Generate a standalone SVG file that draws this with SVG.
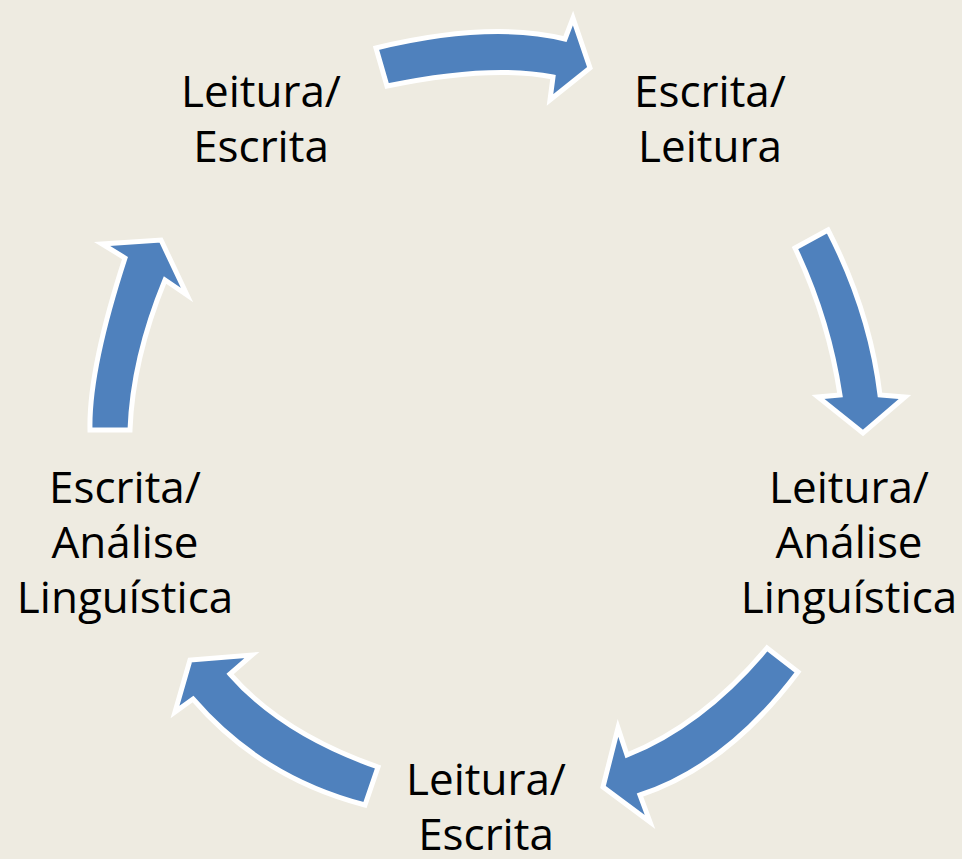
<svg xmlns="http://www.w3.org/2000/svg" width="962" height="859" viewBox="0 0 962 859">
<style>
.bg{fill:#EEEBE1}
.arr{fill:#4F81BD;stroke:#FFFFFF;stroke-width:5;stroke-linejoin:miter}
.lbl{font-family:"Open Sans","Liberation Sans",sans-serif;font-size:44px;fill:#000;text-anchor:middle}
</style>
<rect class="bg" x="0" y="0" width="962" height="859"/>
<g id="connectors">
<path id="arrow1" class="arr" d="M376,48 Q489.5,20.5 565,39 L573,18 L590,68 L550,100 L553,77 Q490,64.5 387,86 Z"/>
<path id="arrow2" class="arr" d="M795,248 L828,230 Q870,311.5 880,395 L905,397 L863,433 L818,397 L840,395 Q828.5,318.5 795,248 Z"/>
<path id="arrow3" class="arr" d="M767,648 L798,672 Q727,766.5 640,795 L650,822 L603,787 L618,728 L627,755 Q703,724.5 767,648 Z"/>
<path id="arrow4" class="arr" d="M365,805 L378,767 Q282,733.5 230,674 L252,655 L190,660 L175,712 L193,699 Q261,778 365,805 Z"/>
<path id="arrow5" class="arr" d="M90,430 L130,430 Q132.5,359 165,280 L187,295 L161,240 L102,244 L125,258 Q88.5,370 90,430 Z"/>
</g>
<g id="node1"><text class="lbl" x="261" y="107">Leitura/</text><text class="lbl" x="261" y="162">Escrita</text></g>
<g id="node2"><text class="lbl" x="710" y="107">Escrita/</text><text class="lbl" x="710" y="162">Leitura</text></g>
<g id="node3"><text class="lbl" x="849" y="503">Leitura/</text><text class="lbl" x="849" y="558">Análise</text><text class="lbl" x="849" y="613">Linguística</text></g>
<g id="node4"><text class="lbl" x="486" y="795">Leitura/</text><text class="lbl" x="486" y="850">Escrita</text></g>
<g id="node5"><text class="lbl" x="125" y="503">Escrita/</text><text class="lbl" x="125" y="558">Análise</text><text class="lbl" x="125" y="613">Linguística</text></g>
</svg>
